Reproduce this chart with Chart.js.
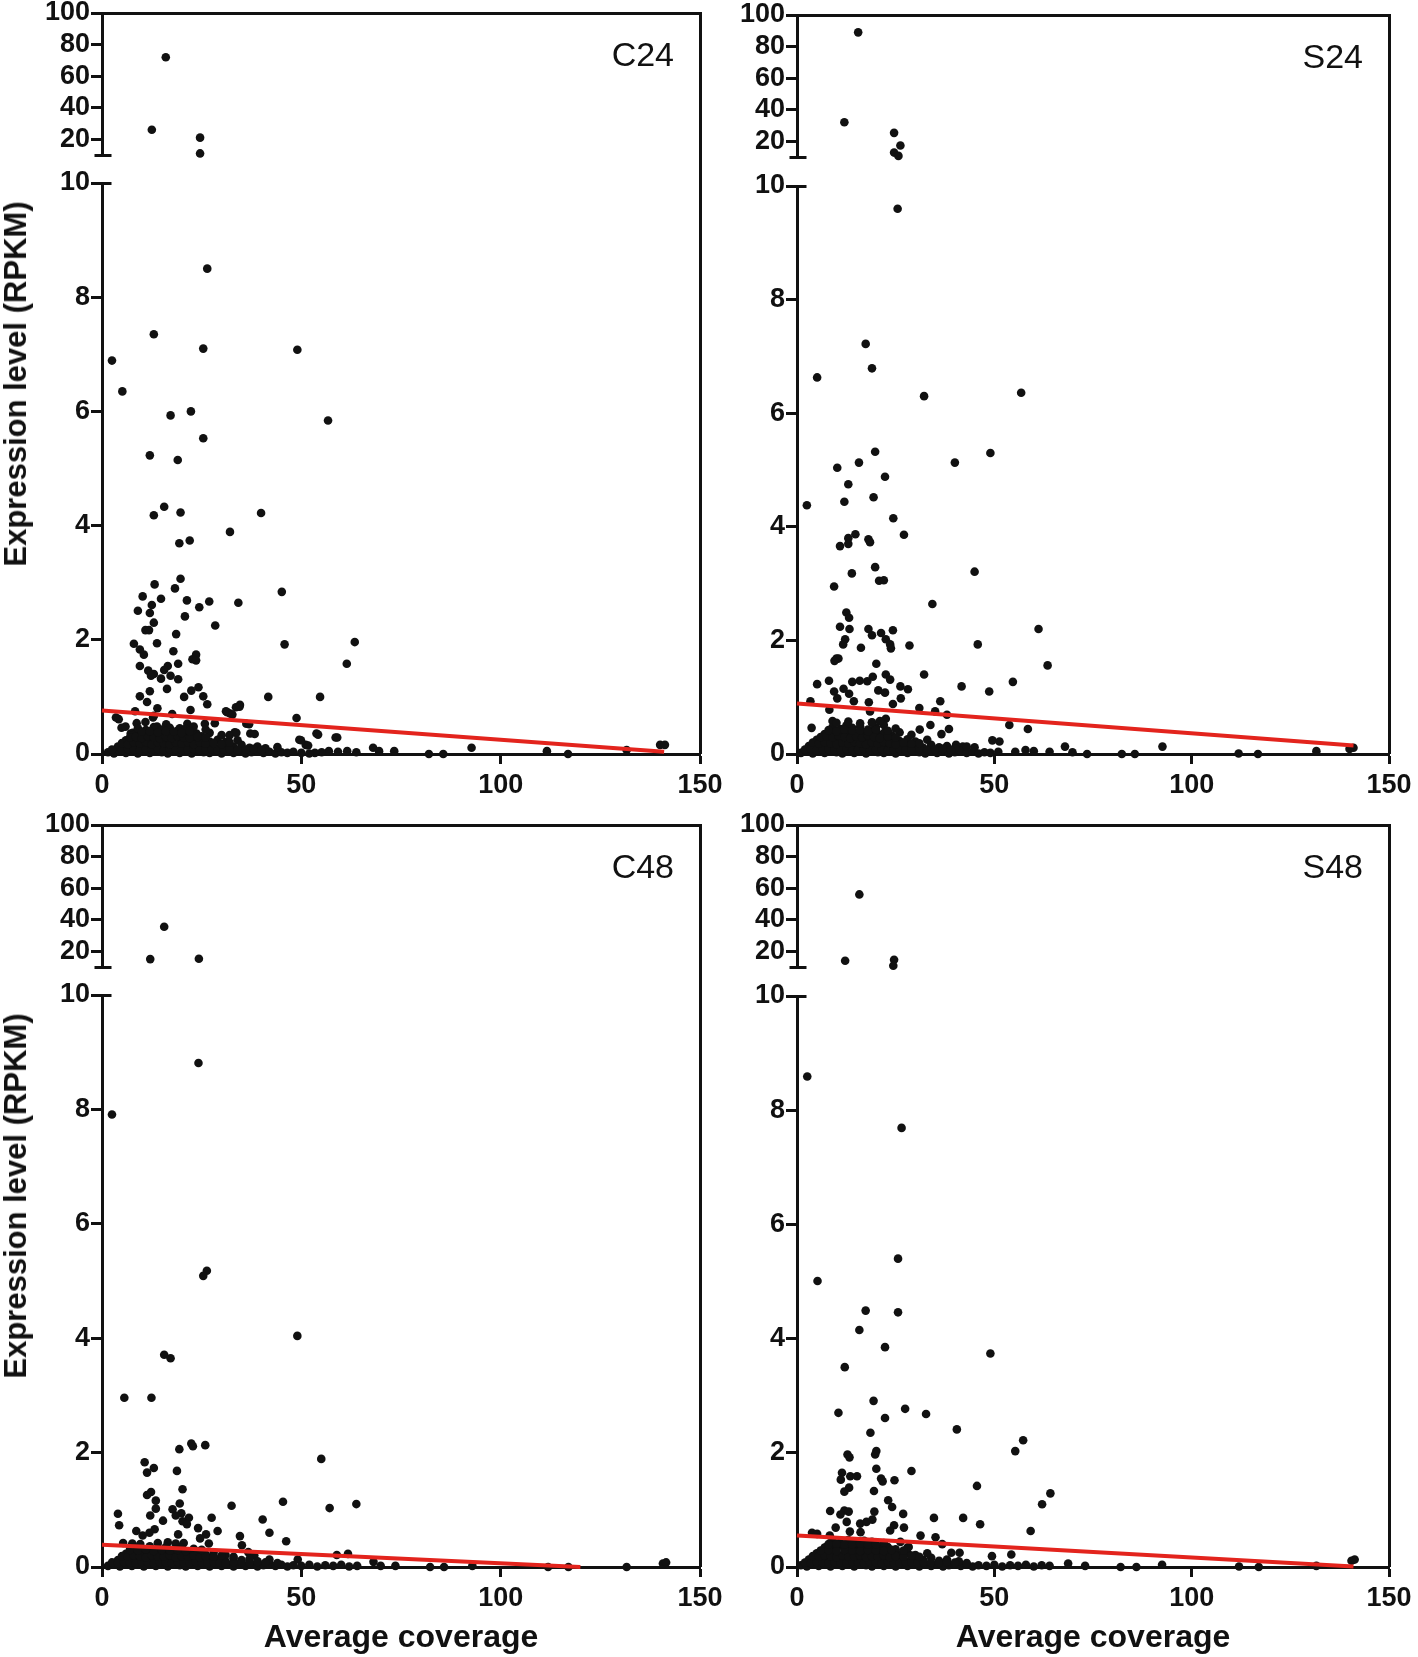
<!DOCTYPE html>
<html>
<head>
<meta charset="utf-8">
<script src="https://cdn.jsdelivr.net/npm/chart.js@4.4.0/dist/chart.umd.min.js"></script>
<style>
html, body { margin: 0; padding: 0; background: #fff; }
#wrap { position: relative; width: 1418px; height: 1657px; overflow: hidden; }
#wrap canvas { position: absolute; }
.ytitle { position: absolute; font: bold 31px 'Liberation Sans', Arial, sans-serif; color: #111;
  white-space: nowrap; transform: translate(-50%, -50%) rotate(-90deg); }
</style>
</head>
<body>
<div id="wrap"></div>
<script>
// axis ticks
const xTicks = [0, 50, 100, 150];
const lowTicks = [0, 2, 4, 6, 8, 10];
const highTicks = [20, 40, 60, 80, 100];
const xLabel = 'Average coverage';
const yLabel = 'Expression level (RPKM)';

// C24 : [average coverage, RPKM]
const c24Points = [
  [16,72],[12.5,26],[24.6,21],[24.6,11],
  [2.5,6.89],[5.1,6.35],[13,7.35],[25.4,7.1],[49,7.08],[26.4,8.5],[17.2,5.93],[22.3,6],[25.4,5.53],[56.7,5.84],
  [12,5.23],[19,5.15],[15.6,4.33],[13,4.18],[19.7,4.23],[39.9,4.22],[32.1,3.89],[22,3.74],[19.4,3.69],
  [19.7,3.07],[13.2,2.97],[18.3,2.9],[10.2,2.76],[14.8,2.72],[21.3,2.69],[26.9,2.67],[34.2,2.65],[45.1,2.84],
  [9,2.51],[12,2.47],[12.5,2.61],[24.4,2.57],[20.8,2.41],[13,2.3],[28.4,2.25],[10.9,2.17],[11.8,2.17],[18.6,2.1],
  [13.8,1.94],[8,1.93],[45.8,1.92],[63.4,1.96],[9.5,1.83],[10.5,1.74],[17.9,1.8],[23.6,1.74],[22.7,1.66],[23.6,1.64],
  [61.4,1.58],[19.1,1.58],[9.5,1.54],[16.5,1.54],[15.6,1.47],[11.6,1.46],[13,1.4],[17.2,1.37],[12.3,1.37],[14.8,1.32],
  [19.1,1.31],[24.2,1.17],[22.4,1.11],[12,1.1],[16.3,1.14],[25.4,1.01],[9.5,1.01],[41.7,1],[54.7,1],[11.3,0.91],
  [20.6,1],[26.4,0.87],[34.6,0.86],[33.6,0.82],[13.9,0.8],[31.1,0.75],[32.1,0.71],[48.8,0.63],[3.5,0.64],[8.3,0.75],
  [4.9,0.46],[7.2,0.36],[13,0.67],[17.6,0.7],[22.2,0.77],[36.2,0.53],[53.8,0.36],[58.6,0.29],[49.5,0.25],[51.1,0.16],
  [37.2,0.36],[33.3,0.38],[92.7,0.11],[140,0.16],[141.2,0.16],[68,0.11],[73.3,0.05],[69.5,0.05],[82,0],[85.6,0],
  [111.6,0.05],[116.9,0],[131.6,0.07],[63.8,0.03],[61.5,0.05],[59.2,0.04],[56.9,0.05],[55.1,0.03],[53.4,0.02],
  [4.2,0.61],[5.9,0.48],[7.7,0.37],[8.7,0.54],[10.9,0.56],[12.8,0.64],[13.8,0.48],[16.1,0.52],[17.4,0.36],[19.5,0.45],
  [21.4,0.53],[23.7,0.36],[25.8,0.53],[28.3,0.54],[31.4,0.73],[32.7,0.69],[34.5,0.83],[36.9,0.52],[32,0.33],[33.7,0.37],
  [38.3,0.35],[49.9,0.24],[51.7,0.15],[54.2,0.34],[59,0.29],
  [1.5,0.03],[3,0.01],[4.5,0.05],[6,0.02],[7.5,0.06],[9,0.01],[10.5,0.04],[12,0.02],[13.5,0.06],[15,0.03],[16.5,0.01],
  [18,0.05],[19.5,0.02],[21,0.04],[22.5,0.01],[24,0.06],[25.5,0.03],[27,0.02],[28.5,0.05],[30,0.01],[31.5,0.04],[33,0.02],
  [34.5,0.06],[36,0.01],[37.5,0.03],[39,0.05],[40.5,0.02],[42,0.04],[43.5,0.01],[45,0.03],[46.5,0.02],[48,0.04],[50,0.02],[52,0.01],
  [4,0.13],[5.5,0.1],[7,0.15],[8.5,0.12],[10,0.17],[11.5,0.11],[13,0.14],[14.5,0.18],[16,0.12],[17.5,0.15],[19,0.1],
  [20.5,0.16],[22,0.13],[23.5,0.11],[25,0.17],[26.5,0.12],[28,0.14],[29.5,0.1],[31,0.15],[33,0.12],[35,0.16],[37,0.11],
  [39,0.13],[41,0.1],[44,0.12],
  [6,0.24],[7.5,0.21],[9,0.27],[10.5,0.23],[12,0.2],[13.5,0.26],[15,0.22],[16.5,0.28],[18,0.24],[19.5,0.21],[21,0.26],
  [22.5,0.23],[24,0.2],[25.5,0.27],[27,0.22],[29,0.25],[31,0.21],[34,0.24],
  [8,0.33],[9.5,0.36],[11,0.31],[12.5,0.38],[14,0.34],[15.5,0.3],[17,0.37],[18.5,0.33],[20,0.39],[21.5,0.32],[23,0.35],
  [25,0.31],[27,0.37],[30,0.33],
  [9,0.45],[11,0.42],[13,0.47],[15,0.43],[17,0.46],[19,0.41],[21,0.44],[23,0.48],[26,0.43],
  [2.5,0.08],[5,0.07],[6.5,0.09],[8,0.08],[9.5,0.07],[11,0.09],[12.5,0.08],[14,0.09],[15.5,0.07],[17,0.08],[18.5,0.09],
  [20,0.07],[21.5,0.08],[23,0.09],[24.5,0.07],[26,0.08],[27.5,0.09],[29,0.07],[30.5,0.08],[32,0.09],[34,0.07],[36,0.08],
  [38,0.09],[40,0.07],
  [5,0.19],[6.5,0.17],[8,0.2],[9.5,0.18],[11,0.21],[12.5,0.17],[14,0.2],[15.5,0.19],[17,0.17],[18.5,0.2],[20,0.18],
  [21.5,0.21],[23,0.17],[24.5,0.2],[26,0.18],[28,0.19],[30,0.17],[32,0.2],
  [7,0.29],[8.5,0.3],[10,0.28],[11.5,0.31],[13,0.29],[14.5,0.27],[16,0.3],[17.5,0.28],[19,0.31],[20.5,0.29],[22,0.28],
  [24,0.3],[26,0.29],
  [10,0.39],[12,0.4],[14,0.38],[16,0.4],[18,0.39],[20,0.37],[22,0.4]
];
const c24Fit = [[0, 0.76], [141, 0.04]];

// S24
const s24Points = [
  [15.5,89],[12,32],[24.6,25.3],[26.2,17.3],[24.6,12.8],[25.7,10.7],
  [25.5,9.6],[17.4,7.22],[19,6.79],[5.1,6.63],[32.2,6.3],[56.8,6.36],[19.8,5.32],[49,5.3],[40,5.13],[15.7,5.13],
  [10.2,5.04],[22.3,4.88],[13,4.75],[12,4.44],[19.4,4.52],[2.5,4.38],[24.4,4.15],[27.1,3.86],[14.8,3.87],[13,3.8],
  [18.1,3.78],[18.5,3.73],[13,3.7],[10.9,3.66],[45,3.21],[19.8,3.29],[13.9,3.18],[20.8,3.05],[22,3.06],[9.4,2.95],
  [34.3,2.64],[12.5,2.49],[13.2,2.4],[61.2,2.2],[10.9,2.24],[13.3,2.2],[18.1,2.2],[24.3,2.18],[21.3,2.13],[19,2.09],
  [12.2,2.02],[22.5,2.02],[11.7,1.93],[45.8,1.93],[23.6,1.93],[28.5,1.91],[23.8,1.86],[16.2,1.87],[10,1.68],[10.5,1.68],
  [9.5,1.64],[20.1,1.59],[63.5,1.56],[32.2,1.4],[22.5,1.4],[19.2,1.36],[23.6,1.31],[54.7,1.27],[8.1,1.29],[14,1.27],
  [15.9,1.29],[17.8,1.28],[5.1,1.23],[41.7,1.19],[26.2,1.19],[28.1,1.14],[11.8,1.15],[48.7,1.1],[9.4,1.1],[20.6,1.12],
  [13.2,1.06],[22.3,1.08],[26.3,0.98],[10.2,0.98],[14.4,0.93],[36.3,0.93],[3.4,0.93],[18.2,0.91],[24.3,0.88],[31,0.81],
  [8.2,0.78],[35,0.75],[38,0.69],[18.5,0.75],[9,0.58],[19,0.55],[22.5,0.62],[38.5,0.44],[58.5,0.44],[53.8,0.51],
  [3.7,0.46],[31.1,0.43],[33.8,0.51],[36.6,0.35],[49.5,0.24],[51.3,0.22],[45,0.12],[67.9,0.13],[92.6,0.13],[141,0.11],
  [140,0.09],[131.6,0.05],[111.9,0.01],[116.8,0],[82.3,0],[85.6,0],[73.5,0],[69.8,0.03],[64,0.04],[60,0.05],[57.9,0.07],
  [55.3,0.04],[42,0.13],[40.3,0.16],
  [1,0.02],[2.5,0.05],[4,0.01],[5.5,0.04],[7,0.02],[8.5,0.06],[10,0.03],[11.5,0.01],[13,0.05],[14.5,0.02],[16,0.04],
  [17.5,0.01],[19,0.06],[20.5,0.03],[22,0.02],[23.5,0.05],[25,0.01],[26.5,0.04],[28,0.02],[29.5,0.06],[31,0.03],[32.5,0.01],
  [34,0.05],[35.5,0.02],[37,0.04],[38.5,0.01],[40,0.03],[41.5,0.05],[43,0.02],[44.5,0.04],[46,0.01],[47.5,0.03],[49,0.02],[51,0.04],
  [3,0.14],[4.5,0.11],[6,0.16],[7.5,0.12],[9,0.18],[10.5,0.13],[12,0.1],[13.5,0.15],[15,0.19],[16.5,0.12],[18,0.16],
  [19.5,0.11],[21,0.14],[22.5,0.18],[24,0.12],[25.5,0.15],[27,0.1],[28.5,0.17],[30,0.13],[32,0.11],[34,0.16],[36,0.12],
  [38,0.14],[40,0.1],[43,0.13],
  [5,0.25],[6.5,0.22],[8,0.28],[9.5,0.24],[11,0.21],[12.5,0.27],[14,0.23],[15.5,0.29],[17,0.25],[18.5,0.21],[20,0.27],
  [21.5,0.24],[23,0.22],[24.5,0.28],[26,0.23],[28,0.26],[30,0.22],[33,0.25],
  [7,0.35],[8.5,0.38],[10,0.33],[11.5,0.4],[13,0.36],[14.5,0.32],[16,0.39],[17.5,0.34],[19,0.41],[20.5,0.35],[22,0.37],
  [24,0.33],[26,0.38],[29,0.34],
  [9,0.47],[11,0.44],[12.5,0.5],[14,0.46],[16,0.48],[18,0.43],[20,0.47],[22,0.51],[25,0.45],
  [2,0.08],[3.5,0.09],[5,0.07],[6.5,0.08],[8,0.09],[9.5,0.07],[11,0.08],[12.5,0.09],[14,0.07],[15.5,0.08],[17,0.09],
  [18.5,0.07],[20,0.08],[21.5,0.09],[23,0.07],[24.5,0.08],[26,0.09],[27.5,0.07],[29,0.08],[31,0.09],[33,0.07],[35,0.08],
  [37,0.09],[39,0.07],
  [4,0.2],[5.5,0.18],[7,0.21],[8.5,0.19],[10,0.17],[11.5,0.2],[13,0.18],[14.5,0.21],[16,0.19],[17.5,0.17],[19,0.2],
  [20.5,0.18],[22,0.21],[23.5,0.19],[25,0.17],[27,0.2],[29,0.18],[31,0.19],
  [6,0.3],[7.5,0.31],[9,0.29],[10.5,0.32],[12,0.3],[13.5,0.28],[15,0.31],[16.5,0.29],[18,0.32],[19.5,0.3],[21,0.28],
  [23,0.31],[25,0.29],
  [8,0.42],[10,0.4],[12,0.43],[14,0.41],[16,0.42],[18,0.4],[20,0.43],[23,0.41],
  [10,0.55],[13,0.57],[16,0.54],[19,0.56],[21,0.58]
];
const s24Fit = [[0, 0.89], [141, 0.15]];

// C48
const c48Points = [
  [15.6,35.5],[12.1,15],[24.3,15.2],
  [2.5,7.91],[24.2,8.81],[26.3,5.18],[25.4,5.09],[49,4.04],[15.6,3.71],[17.2,3.65],[5.6,2.96],[12.4,2.96],
  [22.4,2.16],[22.8,2.11],[25.9,2.13],[19.4,2.06],[55,1.89],[10.7,1.83],[13,1.73],[11.3,1.65],[18.8,1.68],[20.2,1.36],
  [12.3,1.31],[11.3,1.26],[13.5,1.16],[45.4,1.14],[63.8,1.1],[57.1,1.03],[32.5,1.07],[19.5,1.11],[13.5,1.02],[17.7,1.01],
  [4,0.93],[19.9,0.94],[18.5,0.9],[12.1,0.9],[21.8,0.86],[27.5,0.86],[40.3,0.83],[15.3,0.81],[20.2,0.8],[21.3,0.75],
  [4.3,0.73],[24.1,0.68],[29,0.63],[42,0.6],[8.6,0.63],[13.2,0.66],[11.9,0.6],[19.1,0.57],[10.2,0.55],[26.1,0.57],
  [34.6,0.54],[24.6,0.5],[46.2,0.45],[35.1,0.38],[26.8,0.41],[5.3,0.42],[7.6,0.41],[9.6,0.4],[14,0.42],[16.5,0.43],
  [18.5,0.41],[20.5,0.42],[58.9,0.21],[61.7,0.23],[36.7,0.26],[38.2,0.2],[49.1,0.13],[68.1,0.09],
  [69.9,0.02],[73.6,0.02],[82.3,0],[85.8,0],[92.9,0.02],[111.9,0],[117,0],[131.6,0],[140.7,0.06],[141.5,0.08],
  [1.5,0.02],[3,0.04],[4.5,0.01],[6,0.05],[7.5,0.02],[9,0.04],[10.5,0.01],[12,0.06],[13.5,0.02],[15,0.04],[16.5,0.01],
  [18,0.05],[19.5,0.03],[21,0.01],[22.5,0.05],[24,0.02],[25.5,0.04],[27,0.01],[28.5,0.06],[30,0.02],[31.5,0.04],[33,0.01],
  [34.5,0.05],[36,0.02],[37.5,0.04],[39,0.01],[40.5,0.03],[42,0.05],[43.5,0.02],[45,0.04],[46.5,0.01],[48,0.03],[50,0.02],
  [52,0.04],[54,0.01],[56,0.03],[58,0.02],[60,0.04],[62,0.01],[64,0.02],
  [4,0.12],[5.5,0.15],[7,0.11],[8.5,0.16],[10,0.13],[11.5,0.1],[13,0.17],[14.5,0.12],[16,0.15],[17.5,0.11],[19,0.16],
  [20.5,0.13],[22,0.1],[23.5,0.15],[25,0.12],[26.5,0.17],[28,0.11],[29.5,0.14],[31,0.1],[33,0.15],[35,0.12],[37,0.14],
  [39,0.1],[42,0.13],
  [6,0.23],[7.5,0.26],[9,0.21],[10.5,0.27],[12,0.24],[13.5,0.2],[15,0.26],[16.5,0.22],[18,0.28],[19.5,0.23],[21,0.25],
  [22.5,0.21],[24,0.27],[26,0.22],[28,0.25],[31,0.21],
  [8,0.34],[10,0.31],[12,0.36],[14,0.32],[16,0.35],[18,0.31],[20,0.34],[23,0.32],
  [2.5,0.08],[4,0.07],[5.5,0.09],[7,0.08],[8.5,0.07],[10,0.09],[11.5,0.08],[13,0.07],[14.5,0.09],[16,0.08],[17.5,0.07],
  [19,0.09],[20.5,0.08],[22,0.07],[23.5,0.09],[25,0.08],[26.5,0.07],[28,0.09],[29.5,0.08],[31,0.07],[33,0.09],[35,0.08],
  [37,0.07],[39,0.09],[41,0.08],[44,0.07],
  [5,0.19],[6.5,0.18],[8,0.2],[9.5,0.19],[11,0.17],[12.5,0.2],[14,0.18],[15.5,0.19],[17,0.2],[18.5,0.17],[20,0.19],
  [21.5,0.18],[23,0.2],[24.5,0.17],[26,0.19],[28,0.18],[30,0.2],[33,0.18],
  [7,0.3],[9,0.29],[11,0.31],[13,0.28],[15,0.3],[17,0.29],[19,0.3],[21,0.28],[25,0.3]
];
const c48Fit = [[0, 0.39], [120, 0]];

// S48
const s48Points = [
  [15.8,56],[12.2,14],[24.6,14.6],[24.4,10.8],
  [2.6,8.59],[26.5,7.69],[25.6,5.4],[5.2,5.01],[17.4,4.49],[25.6,4.46],[15.8,4.15],[22.3,3.85],[49,3.74],[12.1,3.5],
  [19.4,2.91],[10.5,2.7],[27.4,2.77],[32.7,2.68],[22.3,2.61],[40.5,2.41],[18.6,2.35],[57.3,2.22],[55.3,2.03],[20.1,2.03],
  [19.8,1.97],[12.8,1.97],[13.3,1.92],[20.1,1.72],[29,1.68],[11.4,1.65],[13.5,1.59],[15.2,1.59],[11.1,1.53],[21.3,1.55],
  [21.7,1.5],[24.7,1.52],[45.6,1.42],[13.2,1.39],[12,1.32],[19.5,1.33],[64.2,1.29],[23.1,1.17],[62.1,1.1],[24.1,1.05],
  [8.4,0.98],[12,0.99],[13.1,0.97],[11,0.92],[19.6,0.97],[26.9,0.93],[34.7,0.86],[42.1,0.86],[19.1,0.83],[12.6,0.79],
  [46.4,0.75],[16,0.76],[17.6,0.79],[24.6,0.73],[27.1,0.69],[59.2,0.63],[9.8,0.69],[13.4,0.62],[23.6,0.64],[16.1,0.61],
  [3.8,0.6],[5.1,0.58],[31.3,0.55],[35.1,0.52],[8.3,0.55],[26.2,0.44],[36.8,0.4],[7.4,0.35],[28.3,0.35],[39.1,0.25],
  [41.2,0.25],[54.3,0.22],[49.4,0.19],[5.9,0.21],
  [68.7,0.06],[73,0.02],[82,0],[86,0],[92.5,0.04],[112,0.01],[117,0],[131.6,0.02],[140.5,0.11],[141.3,0.13],
  [1,0.03],[2.5,0.01],[4,0.05],[5.5,0.02],[7,0.04],[8.5,0.01],[10,0.06],[11.5,0.02],[13,0.04],[14.5,0.01],[16,0.05],
  [17.5,0.03],[19,0.01],[20.5,0.05],[22,0.02],[23.5,0.04],[25,0.01],[26.5,0.06],[28,0.02],[29.5,0.04],[31,0.01],[32.5,0.05],
  [34,0.02],[35.5,0.04],[37,0.01],[38.5,0.03],[40,0.05],[41.5,0.02],[43,0.04],[44.5,0.01],[46,0.03],[48,0.02],[50,0.04],
  [52,0.01],[54,0.03],[56,0.02],[58,0.04],[60,0.01],[62,0.03],[64,0.02],
  [3,0.13],[4.5,0.1],[6,0.15],[7.5,0.12],[9,0.17],[10.5,0.11],[12,0.14],[13.5,0.18],[15,0.12],[16.5,0.15],[18,0.1],
  [19.5,0.16],[21,0.13],[22.5,0.11],[24,0.17],[25.5,0.12],[27,0.14],[28.5,0.1],[30,0.15],[32,0.12],[34,0.16],[36,0.11],
  [38,0.13],[41,0.1],
  [5,0.24],[6.5,0.21],[8,0.27],[9.5,0.23],[11,0.2],[12.5,0.26],[14,0.22],[15.5,0.28],[17,0.24],[18.5,0.21],[20,0.26],
  [21.5,0.23],[23,0.2],[24.5,0.27],[26,0.22],[28,0.25],[30,0.21],[33,0.24],
  [7,0.34],[8.5,0.37],[10,0.32],[11.5,0.38],[13,0.35],[14.5,0.31],[16,0.36],[17.5,0.33],[19,0.38],[21,0.32],[23,0.35],
  [25,0.31],[28,0.34],
  [9,0.45],[11,0.43],[13,0.47],[15,0.42],[17,0.46],[19,0.44],[22,0.42],
  [2,0.08],[3.5,0.07],[5,0.09],[6.5,0.08],[8,0.07],[9.5,0.09],[11,0.08],[12.5,0.07],[14,0.09],[15.5,0.08],[17,0.07],
  [18.5,0.09],[20,0.08],[21.5,0.07],[23,0.09],[24.5,0.08],[26,0.07],[27.5,0.09],[29,0.08],[30.5,0.07],[32,0.09],[34,0.08],
  [36,0.07],[38,0.09],[40,0.08],[43,0.07],
  [4,0.19],[5.5,0.18],[7,0.2],[8.5,0.19],[10,0.17],[11.5,0.2],[13,0.18],[14.5,0.19],[16,0.2],[17.5,0.17],[19,0.19],
  [20.5,0.18],[22,0.2],[23.5,0.17],[25,0.19],[27,0.18],[29,0.2],[31,0.18],
  [6,0.29],[8,0.3],[10,0.28],[12,0.3],[14,0.29],[16,0.28],[18,0.3],[20,0.29],[22,0.28],[24,0.3],[27,0.29],
  [8,0.4],[10,0.41],[12,0.39],[14,0.4],[16,0.41],[18,0.39],[20,0.4]
];
const s48Fit = [[0, 0.55], [141, 0.01]];

// layout of the four panels (pixel positions of the axes)
const panels = [
  { name: 'C24', points: c24Points, fit: c24Fit, ax: 102, right: 700, top100: 13, cap: 155, top10: 183, zero: 754, yTitle: true, xTitle: false },
  { name: 'S24', points: s24Points, fit: s24Fit, ax: 797, right: 1389, top100: 15, cap: 157, top10: 186, zero: 754, yTitle: false, xTitle: false },
  { name: 'C48', points: c48Points, fit: c48Fit, ax: 102, right: 700, top100: 825, cap: 967, top10: 995, zero: 1567, yTitle: true, xTitle: true },
  { name: 'S48', points: s48Points, fit: s48Fit, ax: 797, right: 1389, top100: 825, cap: 967, top10: 996, zero: 1567, yTitle: false, xTitle: true }
];

const SANS = "'Liberation Sans', Arial, sans-serif";
const INK = '#111';
const LEFT = 80, PADT = 22, PADR = 30;

// top edge, right edge, break caps and panel name
const framePlugin = {
  id: 'frame',
  afterDraw(chart, args, opts) {
    const { ctx, chartArea: a } = chart;
    const y10 = Math.round(chart.scales.y.getPixelForValue(10)) + 0.5;
    const xr = Math.round(a.right) + 0.5;
    const xl = Math.round(a.left) + 0.5;
    const yt = Math.round(a.top) + 0.5;
    ctx.save();
    ctx.strokeStyle = INK;
    ctx.lineWidth = 3;
    ctx.beginPath();
    if (opts.part === 'top') {
      ctx.moveTo(xl - 1.5, yt); ctx.lineTo(xr + 1.5, yt);
      ctx.moveTo(xr, yt); ctx.lineTo(xr, a.bottom + opts.gap + 2);
      ctx.moveTo(xl - 8, y10); ctx.lineTo(xl + 9, y10);
    } else {
      ctx.moveTo(xr, a.top - 2); ctx.lineTo(xr, a.bottom);
      ctx.moveTo(xl, y10); ctx.lineTo(xl + 9, y10);
    }
    ctx.stroke();
    if (opts.label) {
      ctx.fillStyle = INK;
      ctx.font = '34px ' + SANS;
      ctx.textAlign = 'right';
      ctx.textBaseline = 'middle';
      ctx.fillText(opts.label, a.right - 26, a.top + 44);
    }
    ctx.restore();
  }
};

function addCanvas(left, top, w, h) {
  const c = document.createElement('canvas');
  c.width = w; c.height = h;
  c.style.left = left + 'px';
  c.style.top = top + 'px';
  document.getElementById('wrap').appendChild(c);
  return c;
}

function makeChart(p, part) {
  const isTop = part === 'top';
  const width = p.right - p.ax + LEFT + PADR;
  const gap = p.top10 - p.cap;
  let canvas, xh = 0;
  if (isTop) {
    canvas = addCanvas(p.ax - LEFT, p.top100 - PADT, width, p.top10 - p.top100 + PADT + 6);
  } else {
    xh = p.xTitle ? 1657 - p.zero : 50;
    canvas = addCanvas(p.ax - LEFT, p.top10 - PADT, width, p.zero - p.top10 + PADT + xh);
  }
  const pts = p.points
    .filter(d => isTop ? d[1] > 10 : d[1] <= 10)
    .map(d => ({ x: d[0], y: d[1] }));
  const datasets = [{
    type: 'scatter', data: pts, pointRadius: 4.3, pointHoverRadius: 4.3,
    backgroundColor: INK, borderWidth: 0, clip: false, order: 1
  }];
  if (!isTop) {
    datasets.unshift({
      type: 'line', data: p.fit.map(d => ({ x: d[0], y: d[1] })),
      borderColor: '#e3241d', borderWidth: 4, pointRadius: 0, fill: false, order: 0, clip: false
    });
  }
  const tickFont = { family: SANS, weight: 'bold', size: 27 };
  return new Chart(canvas, {
    type: 'scatter',
    data: { datasets },
    options: {
      responsive: false,
      animation: false,
      devicePixelRatio: 1,
      events: [],
      layout: { padding: { top: PADT, right: PADR, left: 0, bottom: isTop ? gap + 6 : 0 } },
      plugins: {
        legend: { display: false },
        tooltip: { enabled: false },
        frame: { part, gap, label: isTop ? p.name : '' }
      },
      scales: {
        x: {
          type: 'linear', min: 0, max: 150, display: !isTop,
          afterBuildTicks: s => { s.ticks = xTicks.map(v => ({ value: v })); },
          afterFit: s => { s.height = xh; },
          ticks: { font: tickFont, color: INK, padding: 5, maxRotation: 0, autoSkip: false },
          grid: { drawOnChartArea: false, tickLength: 10, tickWidth: 3, color: INK },
          border: { width: 3, color: INK },
          title: {
            display: p.xTitle, text: xLabel, color: INK,
            font: { family: SANS, weight: 'bold', size: 32, lineHeight: 1 },
            padding: { top: 0, bottom: 3 }
          }
        },
        y: {
          type: 'linear', min: isTop ? 10 : 0, max: isTop ? 100 : 10,
          afterBuildTicks: s => { s.ticks = (isTop ? highTicks : lowTicks).map(v => ({ value: v })); },
          afterFit: s => { s.width = LEFT; },
          ticks: { font: tickFont, color: INK, padding: 1, autoSkip: false },
          grid: { drawOnChartArea: false, tickLength: 11, tickWidth: 3, color: INK },
          border: { width: 3, color: INK }
        }
      }
    },
    plugins: [framePlugin]
  });
}

panels.forEach(p => {
  makeChart(p, 'top');
  makeChart(p, 'bottom');
  if (p.yTitle) {
    const t = document.createElement('div');
    t.className = 'ytitle';
    t.textContent = yLabel;
    t.style.left = '16px';
    t.style.top = ((p.top100 + p.zero) / 2) + 'px';
    document.getElementById('wrap').appendChild(t);
  }
});
</script>
</body>
</html>
